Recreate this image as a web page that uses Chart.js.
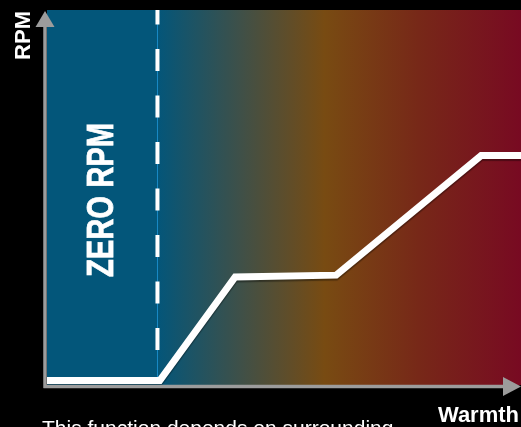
<!DOCTYPE html>
<html>
<head>
<meta charset="utf-8">
<script src="https://cdn.jsdelivr.net/npm/chart.js@4"></script>
<style>
  html, body { margin: 0; padding: 0; background: #000; }
  #wrap { width: 521px; height: 427px; overflow: hidden; }
</style>
</head>
<body>
<div id="wrap"><canvas id="fanChart" width="521" height="427"></canvas></div>
<script>
// -------------------------------
// DATA (warmth 0-100, rpm 0-100)
// -------------------------------
const warmth = [0, 23.8, 39.7, 61.0, 91.6, 100];
const rpm = [1.2, 1.2, 28.8, 29.3, 61.2, 61.2];
const zeroRpmEnd = 23.2;
const xLabel = 'Warmth';
const yLabel = 'RPM';
const zoneLabel = 'ZERO RPM';
const footnote = 'This function depends on surrounding';

const FONT = "'Liberation Sans', Arial, sans-serif";

// background + zero rpm zone
const zonePlugin = {
    id: 'zone',
    beforeDatasetsDraw(chart) {
        const { ctx, chartArea: a, scales: { x } } = chart;
        const zx = x.getPixelForValue(zeroRpmEnd);

        const grad = ctx.createLinearGradient(zx, 0, a.right, 0);
        grad.addColorStop(0, '#03567a');
        grad.addColorStop(0.23, '#3f5048');
        grad.addColorStop(0.46, '#784b12');
        grad.addColorStop(0.72, '#772818');
        grad.addColorStop(1, '#780a22');

        ctx.save();
        ctx.fillStyle = grad;
        ctx.fillRect(a.left, a.top, a.right - a.left, a.bottom - a.top);
        ctx.fillStyle = '#03567a';
        ctx.fillRect(a.left, a.top, zx - a.left, a.bottom - a.top);

        // thin blue line + white dashes
        ctx.strokeStyle = '#1a8ac8';
        ctx.lineWidth = 1;
        ctx.beginPath();
        ctx.moveTo(zx + 0.5, a.top);
        ctx.lineTo(zx + 0.5, a.bottom - 6);
        ctx.stroke();

        ctx.strokeStyle = '#ffffff';
        ctx.lineWidth = 4;
        ctx.setLineDash([22, 24.5]);
        ctx.lineDashOffset = 7.5;
        ctx.beginPath();
        ctx.moveTo(zx + 0.5, a.top);
        ctx.lineTo(zx + 0.5, a.bottom - 12);
        ctx.stroke();
        ctx.setLineDash([]);

        // zone label
        ctx.translate((a.left + zx) / 2 + 1, (a.top + a.bottom) / 2 + 2.5);
        ctx.rotate(-Math.PI / 2);
        ctx.fillStyle = '#ffffff';
        ctx.strokeStyle = '#ffffff';
        ctx.lineWidth = 0.8;
        ctx.font = 'bold 36px ' + FONT;
        ctx.textAlign = 'center';
        ctx.textBaseline = 'middle';
        ctx.fillText(zoneLabel, 0, 0, 154);
        ctx.strokeText(zoneLabel, 0, 0, 154);
        ctx.restore();
    },
    beforeDatasetDraw(chart) {
        const ctx = chart.ctx;
        ctx.save();
        ctx.shadowColor = 'rgba(0,0,0,0.35)';
        ctx.shadowOffsetY = 2;
        ctx.shadowBlur = 1;
    },
    afterDatasetDraw(chart) {
        chart.ctx.restore();
    }
};

// arrow axes + text
const axesPlugin = {
    id: 'arrowAxes',
    afterDraw(chart) {
        const { ctx, chartArea: a } = chart;
        const ax = a.left - 2;
        const ay = a.bottom + 1.5;
        ctx.save();
        ctx.strokeStyle = '#9c9c9c';
        ctx.fillStyle = '#9c9c9c';
        ctx.lineWidth = 3.5;
        ctx.beginPath();
        ctx.moveTo(ax, ay + 1.5);
        ctx.lineTo(ax, a.top + 16);
        ctx.moveTo(ax - 1.5, ay);
        ctx.lineTo(a.right - 17, ay);
        ctx.stroke();

        ctx.beginPath();
        ctx.moveTo(ax, a.top + 1);
        ctx.lineTo(ax - 9.5, a.top + 17);
        ctx.lineTo(ax + 9.5, a.top + 17);
        ctx.closePath();
        ctx.fill();

        ctx.beginPath();
        ctx.moveTo(a.right, ay);
        ctx.lineTo(a.right - 18, ay - 9.5);
        ctx.lineTo(a.right - 18, ay + 9.5);
        ctx.closePath();
        ctx.fill();

        ctx.fillStyle = '#ffffff';
        ctx.font = 'bold 22px ' + FONT;
        ctx.textAlign = 'right';
        ctx.textBaseline = 'alphabetic';
        ctx.fillText(xLabel, 519, 422);

        ctx.save();
        ctx.translate(30, 11);
        ctx.rotate(-Math.PI / 2);
        ctx.textAlign = 'right';
        ctx.fillText(yLabel, 0, 0);
        ctx.restore();

        ctx.font = '21px ' + FONT;
        ctx.textAlign = 'left';
        ctx.fillText(footnote, 42, 435);
        ctx.restore();
    }
};

const ctx = document.getElementById('fanChart').getContext('2d');
window.fanChart = new Chart(ctx, {
    type: 'line',
    data: {
        datasets: [{
            data: warmth.map((w, i) => ({ x: w, y: rpm[i] })),
            borderColor: '#ffffff',
            borderWidth: 7,
            borderJoinStyle: 'miter',
            borderCapStyle: 'butt',
            tension: 0,
            pointRadius: 0,
            fill: false
        }]
    },
    options: {
        responsive: false,
        devicePixelRatio: 1,
        animation: false,
        layout: { padding: { left: 47, top: 10, right: 0, bottom: 42 } },
        plugins: { legend: { display: false }, tooltip: { enabled: false }, title: { display: false } },
        scales: {
            x: { type: 'linear', min: 0, max: 100, display: false },
            y: { min: 0, max: 100, display: false }
        }
    },
    plugins: [zonePlugin, axesPlugin]
});
</script>
</body>
</html>
